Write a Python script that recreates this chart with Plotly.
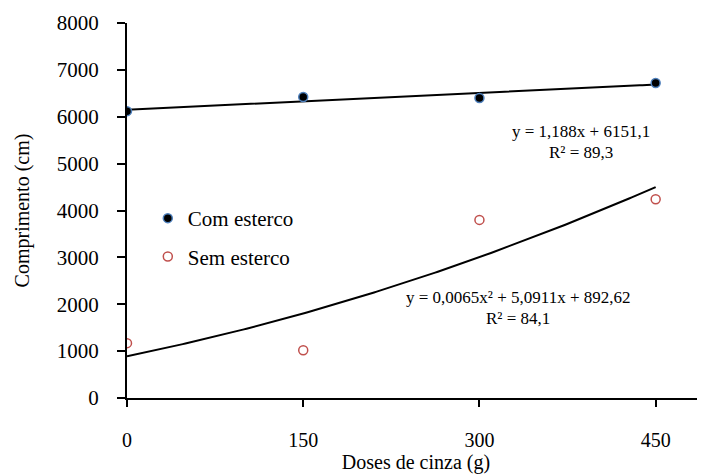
import numpy as np
import plotly.graph_objects as go

doses = [0, 150, 300, 450]
com_esterco = [6120, 6420, 6400, 6720]
sem_esterco = [1170, 1020, 3800, 4240]
x_ticks = [0, 150, 300, 450]
y_ticks = [0, 1000, 2000, 3000, 4000, 5000, 6000, 7000, 8000]
lin_coef = [1.188, 6151.1]          # y = 1,188x + 6151,1
quad_coef = [0.0065, 5.0911, 892.62]  # y = 0,0065x² + 5,0911x + 892,62

FONT = "Liberation Serif"

xg = np.linspace(0, 450, 200)

fig = go.Figure()
fig.add_trace(go.Scatter(x=xg, y=np.polyval(lin_coef, xg), mode="lines",
                         line=dict(color="black", width=2), showlegend=False, hoverinfo="skip"))
fig.add_trace(go.Scatter(x=xg, y=np.polyval(quad_coef, xg), mode="lines",
                         line=dict(color="black", width=2), showlegend=False, hoverinfo="skip"))
fig.add_trace(go.Scatter(x=doses, y=com_esterco, mode="markers", name="Com esterco",
                         legendgroup="a",
                         marker=dict(symbol="circle", size=9, color="black",
                                     line=dict(color="#4F81BD", width=1.5))))
fig.add_trace(go.Scatter(x=doses, y=sem_esterco, mode="markers", name="Sem esterco",
                         legendgroup="b",
                         marker=dict(symbol="circle-open", size=9, color="#C0504D",
                                     line=dict(color="#C0504D", width=1.5))))

def ann(xp, yp, text):
    fig.add_annotation(x=xp, y=yp, xref="paper", yref="paper", text=text,
                       showarrow=False, xanchor="center", yanchor="middle",
                       font=dict(family=FONT, size=17, color="black"))

ann(0.785, (398 - 131) / 375, "y = 1,188x + 6151,1")
ann(0.785, (398 - 152) / 375, "R² = 89,3")
ann(0.677, (398 - 297) / 375, "y = 0,0065x² + 5,0911x + 892,62")
ann(0.677, (398 - 318) / 375, "R² = 84,1")

fig.update_layout(
    width=697, height=466,
    margin=dict(l=119, r=0, t=15, b=76),
    paper_bgcolor="white", plot_bgcolor="white",
    font=dict(family=FONT, size=18, color="black"),
    showlegend=True,
    legend=dict(x=0.036, y=(398 - 198) / 375, xanchor="left", yanchor="top",
                font=dict(family=FONT, size=21, color="black"),
                bgcolor="rgba(0,0,0,0)", traceorder="grouped", tracegroupgap=8),
    xaxis=dict(range=[0, 492], tickvals=x_ticks, showgrid=False, zeroline=False,
               showline=True, linecolor="black", linewidth=2,
               ticks="outside", ticklen=7, tickwidth=1.5, tickcolor="black",
               ticklabelstandoff=16,
               tickfont=dict(family=FONT, size=20),
               title=dict(text="Doses de cinza (g)", font=dict(family=FONT, size=20), standoff=6)),
    yaxis=dict(range=[0, 8000], tickvals=y_ticks, showgrid=False, zeroline=False,
               showline=True, linecolor="black", linewidth=2,
               ticks="outside", ticklen=8, tickwidth=1.5, tickcolor="black",
               ticklabelstandoff=14,
               tickfont=dict(family=FONT, size=21),
               title=dict(text="Comprimento (cm)", font=dict(family=FONT, size=20), standoff=22)),
)

fig.write_html("out.html")
